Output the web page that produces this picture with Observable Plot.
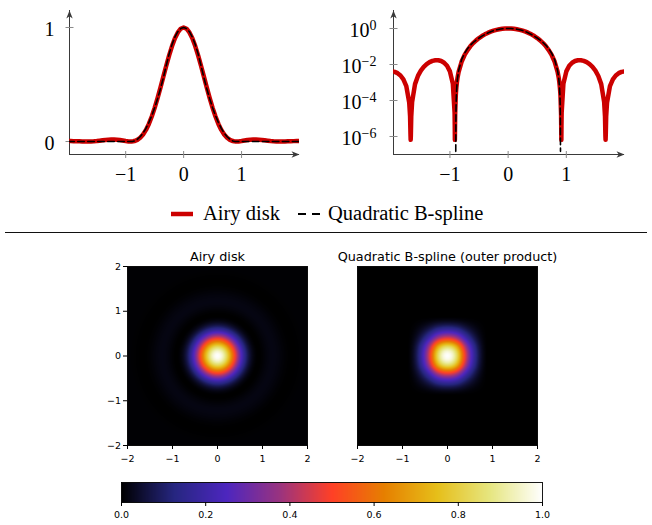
<!DOCTYPE html>
<html><head><meta charset="utf-8">
<script src="https://cdn.jsdelivr.net/npm/d3@7"></script>
<script src="https://cdn.jsdelivr.net/npm/@observablehq/plot@0.6"></script>
<style>
body{margin:0;background:#fff;}
#root{position:relative;width:652px;height:525px;overflow:hidden;background:#fff;}
#root > *{position:absolute;}
</style></head><body><div id="root"></div>
<script>
// ---- data ----
const xs = [-2.0,-1.95,-1.9,-1.85,-1.8,-1.75,-1.7,-1.685,-1.678,-1.675,-1.672,-1.665,-1.65,-1.6,-1.55,-1.5,-1.45,-1.4,-1.35,-1.3,-1.25,-1.2,-1.15,-1.1,-1.05,-1.0,-0.95,-0.92,-0.917,-0.915,-0.913,-0.91,-0.9,-0.898,-0.895,-0.89,-0.88,-0.87,-0.85,-0.8,-0.75,-0.7,-0.65,-0.6,-0.55,-0.5,-0.45,-0.4,-0.35,-0.3,-0.25,-0.2,-0.15,-0.1,-0.05,
 0,
 0.05,0.1,0.15,0.2,0.25,0.3,0.35,0.4,0.45,0.5,0.55,0.6,0.65,0.7,0.75,0.8,0.85,0.87,0.88,0.89,0.895,0.898,0.9,0.91,0.913,0.915,0.917,0.92,0.95,1.0,1.05,1.1,1.15,1.2,1.25,1.3,1.35,1.4,1.45,1.5,1.55,1.6,1.65,1.665,1.672,1.675,1.678,1.685,1.7,1.75,1.8,1.85,1.9,1.95,2.0];
const airy = [0.004152,0.003898,0.003299,0.002444,0.001480,0.000623,0.0000776,0.000013,0.00000127,0.00000065,0.00000104,0.0000126,0.0000829,0.000812,0.002311,0.004574,0.007424,0.010550,0.013551,0.015959,0.017323,0.017286,0.015669,0.012583,0.008460,0.004140,0.000853,0.0000211,0.0000039,0.00000065,0.0000024,0.0000178,0.000177,0.000230,0.000322,0.000513,0.001043,0.001790,0.003954,0.01417,0.03280,0.06159,0.1018,0.1543,0.2191,0.2951,0.3806,0.4731,0.5690,0.6645,0.7552,0.8369,0.9053,0.9569,0.9891,
 1,
 0.9891,0.9569,0.9053,0.8369,0.7552,0.6645,0.5690,0.4731,0.3806,0.2951,0.2191,0.1543,0.1018,0.06159,0.03280,0.01417,0.003954,0.001790,0.001043,0.000513,0.000322,0.000230,0.000177,0.0000178,0.0000024,0.00000065,0.0000039,0.0000211,0.000853,0.004140,0.008460,0.012583,0.015669,0.017286,0.017323,0.015959,0.013551,0.010550,0.007424,0.004574,0.002311,0.000812,0.0000829,0.0000126,0.00000104,0.00000065,0.00000127,0.000013,0.0000776,0.000623,0.001480,0.002444,0.003299,0.003898,0.004152];
const bspline = [0,0,0,0,0,0,0,0,0,0,0,0,0,0,0,0,0,0,0,0,0,0,0,0,0,0,0,0,0,0,0,0,
 0,0.0000074074,0.000046296,0.00018519,0.00074074,0.0016667,0.0046296,0.018519,0.041667,0.074074,0.11574,0.16667,0.22685,0.2963,0.375,0.46296,0.56019,0.66667,0.76852,0.85185,0.91667,0.96296,0.99074,
 1,
 0.99074,0.96296,0.91667,0.85185,0.76852,0.66667,0.56019,0.46296,0.375,0.2963,0.22685,0.16667,0.11574,0.074074,0.041667,0.018519,0.0046296,0.0016667,0.00074074,0.00018519,0.000046296,0.0000074074,0,
 0,0,0,0,0,0,0,0,0,0,0,0,0,0,0,0,0,0,0,0,0,0,0,0,0,0,0,0,0,0,0,0];
const xTicks = [-1, 0, 1];
const linTicks = [0, 1];
const logTicks = [1, 1e-2, 1e-4, 1e-6];
const mapTicks = [-2, -1, 0, 1, 2];
const barTicks = [0, 0.2, 0.4, 0.6, 0.8, 1.0];
const cmapStops = [0, 0.125, 0.25, 0.375, 0.5, 0.625, 0.75, 0.875, 1];
const cmapColors = ["#000000","#262680","#4d26bf","#993380","#ff4026","#e68000","#e6bf1a","#e6e680","#ffffff"];
const legendLabels = ["Airy disk", "Quadratic B-spline"];
const titles = ["Airy disk", "Quadratic B-spline (outer product)"];

// ---- styles ----
const RED = "#cc0000";
const AX = "#3a3a3a", TK = "#8a8a8a";
const SERIF = "'Liberation Serif', 'Times New Roman', serif";
const SANS = "'DejaVu Sans', sans-serif";
const DASH = "6.5,3.5";
const minus = d => (d < 0 ? "\u2212" + Math.abs(d) : String(d));

const profile = xs.map((x, i) => ({x, airy: airy[i], b: bspline[i]}));
const bFloor = 1.5e-7; // log(0) shown at the bottom of the log axis
const profileLogB = profile.filter(d => Math.abs(d.x) <= 0.9).map(d => ({x: d.x, b: Math.max(d.b, bFloor)}));

const arrowUp = {draw(ctx){ ctx.moveTo(0,0); ctx.lineTo(3.2,8); ctx.lineTo(0,5.8); ctx.lineTo(-3.2,8); ctx.closePath(); }};
const tickV = {draw(ctx){ ctx.moveTo(0,-3.5); ctx.lineTo(0,3.5); }};
const tickH = {draw(ctx){ ctx.moveTo(-4,0); ctx.lineTo(4,0); }};

const root = document.getElementById("root");
const X0 = -1.97, X1 = 2.0;

function axesMarks(ylo, yhi, yTicks) {
  return [
    Plot.ruleY([ylo], {x1: X0, x2: X1, stroke: AX, strokeWidth: 1}),
    Plot.ruleX([X0], {y1: ylo, y2: yhi, stroke: AX, strokeWidth: 1}),
    Plot.dot(xTicks, {x: d => d, y: () => ylo, symbol: tickV, stroke: TK, fill: "none", strokeWidth: 1}),
    Plot.dot(yTicks, {x: () => X0, y: d => d, symbol: tickH, stroke: TK, fill: "none", strokeWidth: 1}),
    Plot.dot([{x: X1, y: ylo}], {x: "x", y: "y", symbol: arrowUp, rotate: 90, fill: AX, stroke: "none"}),
    Plot.dot([{x: X0, y: yhi}], {x: "x", y: "y", symbol: arrowUp, fill: AX, stroke: "none"})
  ];
}

// ---- top-left: linear ----
const YL0 = -0.114, YL1 = 1.149;
const lin = Plot.plot({
  width: 326, height: 190, marginLeft: 69, marginRight: 27, marginTop: 10, marginBottom: 36,
  x: {domain: [X0, X1], label: null}, y: {domain: [YL0, YL1], label: null},
  style: {fontFamily: SERIF, fontSize: "20px", color: "#000", background: "transparent", overflow: "visible"},
  marks: [
    ...axesMarks(YL0, YL1, linTicks),
    Plot.line(profile, {x: "x", y: "airy", stroke: RED, strokeWidth: 4.5, clip: true}),
    Plot.line(profile, {x: "x", y: "b", stroke: "#000", strokeWidth: 1.6, strokeDasharray: DASH, clip: true}),
    Plot.axisX({ticks: xTicks, tickSize: 0, tickPadding: 12.5, tickFormat: minus, label: null}),
    Plot.axisY({ticks: linTicks, tickSize: 0, tickPadding: 15, dy: 2, tickFormat: minus, label: null})
  ]
});
lin.style.left = "0px"; lin.style.top = "0px";
root.appendChild(lin);

// ---- top-right: log ----
const YG0 = 1e-7, YG1 = 10;
const lg = Plot.plot({
  width: 326, height: 190, marginLeft: 67, marginRight: 28, marginTop: 10, marginBottom: 36,
  x: {domain: [X0, X1], label: null}, y: {type: "log", domain: [YG0, YG1], label: null},
  style: {fontFamily: SERIF, fontSize: "20px", color: "#000", background: "transparent", overflow: "visible"},
  marks: [
    ...axesMarks(YG0, YG1, logTicks),
    Plot.line(profile, {x: "x", y: "airy", stroke: RED, strokeWidth: 4.5, clip: true}),
    Plot.line(profileLogB, {x: "x", y: "b", stroke: "#000", strokeWidth: 1.6, strokeDasharray: DASH, clip: true}),
    Plot.axisX({ticks: xTicks, tickSize: 0, tickPadding: 12.5, tickFormat: minus, label: null}),
    Plot.axisY({ticks: logTicks, tickSize: 0, tickPadding: 17, dy: 2, label: null, tickFormat: d => "10^" + minus(Math.round(Math.log10(d)))})
  ]
});
lg.querySelectorAll("text").forEach(t => {
  const m = /^10\^(.+)$/.exec(t.textContent);
  if (!m) return;
  const ns = "http://www.w3.org/2000/svg";
  t.textContent = "";
  const a = document.createElementNS(ns, "tspan"); a.textContent = "10";
  const b = document.createElementNS(ns, "tspan"); b.textContent = m[1];
  b.setAttribute("dy", "-7"); b.setAttribute("font-size", "14");
  t.append(a, b);
});
lg.style.left = "326px"; lg.style.top = "0px";
root.appendChild(lg);

// ---- legend ----
const ns = "http://www.w3.org/2000/svg";
const leg = document.createElementNS(ns, "svg");
leg.setAttribute("width", 652); leg.setAttribute("height", 35);
leg.style.left = "0px"; leg.style.top = "195px";
leg.innerHTML =
  `<line x1="171" x2="193" y1="19" y2="19" stroke="${RED}" stroke-width="4.5"/>` +
  `<text x="203" y="24.5" font-family="${SERIF.replace(/'/g,"")}" font-size="20.5">${legendLabels[0]}</text>` +
  `<line x1="298" x2="320" y1="19" y2="19" stroke="#000" stroke-width="1.8" stroke-dasharray="8,6"/>` +
  `<text x="328" y="24.5" font-family="${SERIF.replace(/'/g,"")}" font-size="20.5">${legendLabels[1]}</text>`;
root.appendChild(leg);

// ---- horizontal rule ----
const hr = document.createElement("div");
hr.style.cssText = "left:5px;top:232px;width:642px;height:0;border-top:1.3px solid #111;";
root.appendChild(hr);

// ---- heatmaps ----
function lookup(arr, t) {
  const n = xs.length;
  if (t <= xs[0]) return arr[0];
  if (t >= xs[n - 1]) return arr[n - 1];
  const i = d3.bisectRight(xs, t);
  const u = (t - xs[i - 1]) / (xs[i] - xs[i - 1]);
  return arr[i - 1] * (1 - u) + arr[i] * u;
}
const colorScale = {type: "linear", domain: cmapStops, range: cmapColors, interpolate: "rgb", clamp: true};

function heatmap(fill, title, showY, mLeft, mRight, left) {
  const marks = [
    Plot.raster({fill, x1: -2, x2: 2, y1: -2, y2: 2, width: 180, height: 180}),
    Plot.frame({stroke: "#000", strokeWidth: 0.9}),
    Plot.axisX({ticks: mapTicks, tickSize: 4, tickPadding: 6, tickFormat: minus, label: null}),
    Plot.text([title], {text: d => d, frameAnchor: "top", lineAnchor: "bottom", dy: -6, fontSize: 12.8})
  ];
  if (showY) marks.push(Plot.axisY({ticks: mapTicks, tickSize: 4, tickPadding: 2.5, tickFormat: minus, label: null}));
  const p = Plot.plot({
    width: 326, height: 230, marginLeft: mLeft, marginRight: mRight, marginTop: 26, marginBottom: 25,
    x: {domain: [-2, 2], label: null}, y: {domain: [-2, 2], label: null, axis: showY ? undefined : null}, color: colorScale,
    style: {fontFamily: SANS, fontSize: "9.5px", color: "#000", background: "transparent", overflow: "visible"},
    marks
  });
  p.style.left = left + "px"; p.style.top = "240px";
  root.appendChild(p);
}
heatmap((x, y) => lookup(airy, Math.hypot(x, y)), titles[0], true, 127, 19, 0);
heatmap((x, y) => lookup(bspline, x) * lookup(bspline, y), titles[1], false, 31, 115, 326);

// ---- colorbar ----
const cb = Plot.plot({
  width: 652, height: 55, marginLeft: 121, marginRight: 110, marginTop: 12, marginBottom: 23,
  x: {domain: [0, 1], label: null}, y: {domain: [0, 1], axis: null}, color: colorScale,
  style: {fontFamily: SANS, fontSize: "9.5px", color: "#000", background: "transparent", overflow: "visible"},
  marks: [
    Plot.raster({fill: (x, y) => x, x1: 0, x2: 1, y1: 0, y2: 1, width: 421, height: 1}),
    Plot.frame({stroke: "#000", strokeWidth: 0.9}),
    Plot.axisX({ticks: barTicks, tickSize: 4, tickPadding: 5, tickFormat: d3.format(".1f"), label: null})
  ]
});
cb.style.left = "0px"; cb.style.top = "470px";
root.appendChild(cb);
</script></body></html>
